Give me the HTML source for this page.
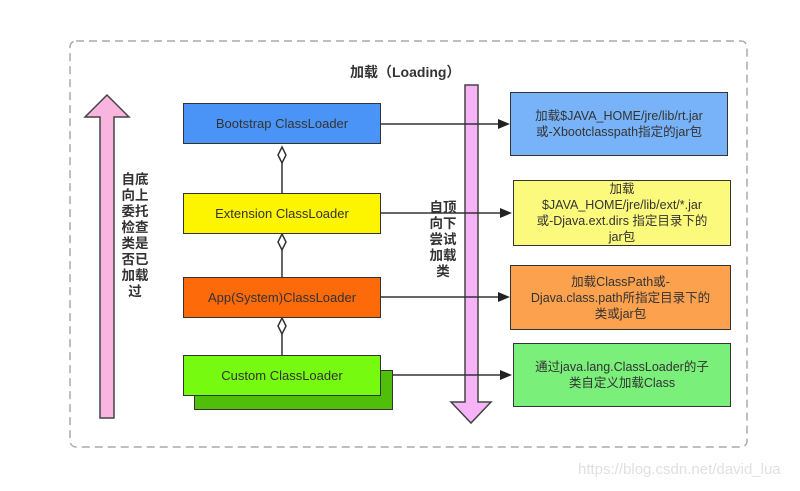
<!DOCTYPE html>
<html><head><meta charset="utf-8"><style>
body{margin:0;width:800px;height:491px;background:#fff;overflow:hidden;position:relative;font-family:"Liberation Sans","Noto Sans CJK SC",sans-serif}
.b{position:absolute;box-sizing:border-box;border:1.5px solid #333;display:flex;align-items:center;justify-content:center;text-align:center;color:#333}
.l{font-size:13px}
.r{font-size:12.5px;line-height:16px}
.t{position:absolute;font-size:13.5px;color:#333;line-height:16px;text-align:center;font-weight:bold}
</style></head><body>
<svg width="800" height="491" style="position:absolute;left:0;top:0">
<rect x="70" y="41" width="677" height="406" rx="6" fill="none" stroke="#aaa" stroke-width="1.5" stroke-dasharray="8,5"/>
<polygon points="100,418 114,418 114,117 129,117 107,95 85,117 100,117" fill="#f9b4e0" stroke="#444" stroke-width="1.5"/>
<polygon points="465,85 478,85 478,402 491,402 471,423 451,402 465,402" fill="#f7b3f7" stroke="#444" stroke-width="1.5"/>
<g stroke="#333" stroke-width="1.5">
<line x1="282" y1="162" x2="282" y2="193"/><line x1="282" y1="250" x2="282" y2="277"/><line x1="282" y1="334" x2="282" y2="355"/>
<line x1="381" y1="124" x2="498" y2="124"/><line x1="381" y1="213" x2="500" y2="213"/><line x1="381" y1="297" x2="498" y2="297"/><line x1="393" y1="375" x2="500" y2="375"/>
</g>
<g fill="#fff" stroke="#333" stroke-width="1.5">
<polygon points="282,147 286,155 282,163 278,155"/><polygon points="282,234 286,242 282,250 278,242"/><polygon points="282,318 286,326 282,334 278,326"/>
</g>
<g fill="#222">
<polygon points="498,119 510,124 498,129"/><polygon points="500,208 512,213 500,218"/><polygon points="498,292 510,297 498,302"/><polygon points="500,370 512,375 500,380"/>
</g>
</svg>
<div class="b" style="left:194px;top:370px;width:199px;height:40px;background:#4fbf0a"></div>
<div class="b l" style="left:183px;top:103px;width:198px;height:41px;background:#4b94f7">Bootstrap ClassLoader</div>
<div class="b l" style="left:183px;top:193px;width:198px;height:41px;background:#fdf500">Extension ClassLoader</div>
<div class="b l" style="left:183px;top:277px;width:198px;height:41px;background:#fc6a0a">App(System)ClassLoader</div>
<div class="b l" style="left:183px;top:355px;width:198px;height:41px;background:#76fa10">Custom ClassLoader</div>
<div class="b r" style="left:510px;top:92px;width:218px;height:64px;background:#78b3f9">加载$JAVA_HOME/jre/lib/rt.jar<br>或-Xbootclasspath指定的jar包</div>
<div class="b r" style="left:513px;top:180px;width:218px;height:66px;background:#fcfa7c">加载<br>$JAVA_HOME/jre/lib/ext/*.jar<br>或-Djava.ext.dirs 指定目录下的<br>jar包</div>
<div class="b r" style="left:510px;top:265px;width:221px;height:65px;background:#fca14e">加载ClassPath或-<br>Djava.class.path所指定目录下的<br>类或jar包</div>
<div class="b r" style="left:513px;top:343px;width:218px;height:64px;background:#7aef7a">通过java.lang.ClassLoader的子<br>类自定义加载Class</div>
<div class="t" style="left:350px;top:64px;font-size:14px">加载（Loading）</div>
<div class="t" style="left:119px;top:172px;width:32px">自底<br>向上<br>委托<br>检查<br>类是<br>否已<br>加载<br>过</div>
<div class="t" style="left:427px;top:200px;width:32px">自顶<br>向下<br>尝试<br>加载<br>类</div>
<div class="t" style="left:578px;top:462px;color:#e0e0e0;font-size:15px;font-weight:normal">https://blog.csdn.net/david_lua</div>
</body></html>
